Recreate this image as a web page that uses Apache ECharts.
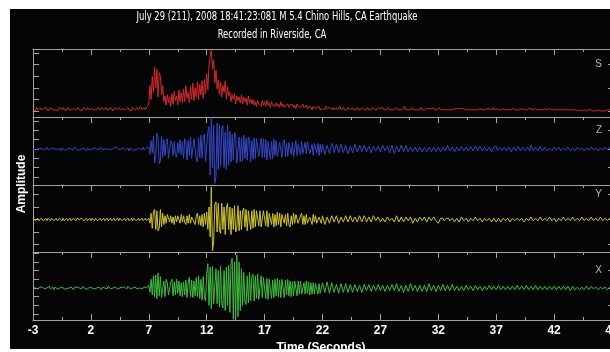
<!DOCTYPE html>
<html>
<head>
<meta charset="utf-8">
<script src="https://cdn.jsdelivr.net/npm/echarts@6/dist/echarts.min.js"></script>
<style>
  html, body { margin: 0; padding: 0; background: #fff; }
  #frame { position: absolute; left: 10px; top: 9px; width: 600px; height: 340px; background: #050505; }
  #chart { position: absolute; left: 0; top: 0; width: 610px; height: 352px; }
</style>
</head>
<body>
<div id="frame"></div>
<div id="chart"></div>
<script>
// seismogram samples, 0.1 s apart, first sample at -3 s
const SAMPLE_STEP = 0.1
const START_TIME = -3

const CHANNELS = ["S", "Z", "Y", "X"]

// S: amplitude envelope
const S_TRACE = [
  1,2,0,3,1,2,3,1,0,2, 1,3,2,0,1,3,2,1,2,1, 2,0,1,3,2,1,3,2,0,1, 3,1,2,1,0,2,3,1,2,3,
  1,2,0,1,3,2,1,3,2,1, 0,2,3,1,2,1,3,2,1,3, 2,1,0,3,1,2,1,3,2,0, 1,3,2,1,3,2,1,0,2,3,
  1,2,3,1,2,0,3,2,1,2, 3,1,2,4,1,2,3,1,3,2,
  6,22,10,30,16,38,20,36,12,33, 30,14,22,8,13,5,14,7,12,4, 15,6,17,9,13,5,18,8,16,7,
  19,8,22,11,16,7,21,10,24,9, 20,12,25,10,23,14,26,11,27,15, 32,18,40,47,53,36,44,24,35,19,
  27,14,25,12,22,16,26,10,21,13, 16,8,14,10,15,6,13,9,12,7, 14,6,12,8,11,5,13,7,10,6,
  10,5,8,4,9,6,7,4,9,5, 8,4,9,5,7,3,8,5,6,4, 7,4,6,3,8,4,6,3,5,4,
  6,3,5,4,6,3,5,2,6,4, 5,3,4,6,3,4,5,2,4,3, 3,1,4,2,1,3,2,4,1,2,
  2,3,1,4,2,1,3,2,1,3, 1,2,3,1,2,4,1,2,3,1, 2,1,3,2,1,2,3,1,2,1,
  3,1,2,1,3,2,1,2,1,3, 1,2,1,3,2,1,2,1,3,2, 2,1,3,1,2,1,2,3,1,2,
  1,2,1,2,3,1,2,1,2,1, 2,4,1,2,1,2,1,3,1,2, 1,2,1,2,1,3,1,2,1,1,
  2,1,2,1,2,1,3,1,2,1, 1,3,1,2,1,2,1,2,1,2, 1,2,1,1,2,1,2,1,2,1,
  2,1,2,1,1,2,1,2,1,1, 1,2,1,2,1,1,2,1,1,2, 1,1,2,1,2,1,1,3,1,1,
  2,1,1,2,1,1,2,1,1,2, 1,2,1,1,2,1,1,2,1,1, 1,1,2,1,1,2,1,1,2,1,
  2,1,1,1,2,1,1,2,1,1, 1,1,2,1,1,1,2,1,1,2, 1,2,1,1,1,2,1,1,1,2,
  1,1,1,2,1,1,1,2,1,1, 0,1,1,2,0,1,1,1,0,1, 1,0,1,1,0,1,0,1,1,0,
  0,1,0,1,0,0,1,0,1,0, 0
]

// Z: vertical
const Z_TRACE = [
  0,1,-1,1,0,-1,1,-1,0,1, -1,0,2,-1,1,0,-1,1,-1,0, 1,-1,0,1,-2,1,0,-1,1,-1, 0,1,-1,0,1,-1,2,0,-1,1,
  -1,1,0,-1,1,0,-2,1,0,-1, 1,0,-1,1,-1,0,1,-1,2,0, -1,1,0,-2,0,1,-1,1,0,-1, 1,-1,2,0,-1,1,0,-1,1,0,
  -1,0,1,-2,1,0,-1,1,-1,1, 0,-1,1,0,-1,2,-1,0,1,-1,
  2,-6,9,-4,14,-15,-8,17,12,-16, -13,14,-9,10,-7,8,11,-10,-8,9, 6,-7,8,-5,-9,7,-4,10,-6,8,
  -10,11,7,-12,9,-7,13,-10,-12,11, 13,-11,-14,12,-9,15,-10,13,16,-14, -12,18,24,-28,34,-20,26,-37,-30,28,
  -22,26,-18,22,25,-20,18,-22,26,-17, 19,-14,16,-12,18,14,-15,-16,13,-14, 12,-13,15,-10,12,-12,13,10,-14,9,
  -11,12,-10,11,13,-8,-10,12,-9,11, -9,10,-12,8,9,-11,8,-10,11,-7, 9,-8,-10,7,8,-9,7,10,-8,6,
  -8,7,9,-6,7,-8,-6,9,-7,5, 7,-6,8,-5,-6,7,-5,8,6,-5, -6,5,-7,6,5,-4,6,-7,5,-4,
  5,4,-6,-5,4,6,-5,-4,6,3, -4,-5,5,3,-4,-4,5,3,-4,-5, 4,3,-5,-4,3,4,-4,-3,5,3,
  -3,-4,4,3,-3,-2,4,3,-3,-4, 3,3,-4,-2,3,3,-2,-4,3,2, -3,-2,4,3,-2,-3,3,2,-4,-3,
  4,3,-5,-2,3,4,-3,-2,4,3, -3,-2,4,3,-3,-2,2,3,-3,-2, 2,3,-3,-2,2,2,-3,-2,2,3,
  -3,-2,2,3,-3,-2,2,2,-3,-2, 2,2,-3,-2,2,3,-2,-2,4,2, -2,-3,2,2,-3,-2,2,3,-2,-2,
  3,2,-2,-2,2,3,-2,-2,3,2, -2,-2,3,2,-2,-2,3,2,-2,-2, 2,3,-2,-2,2,2,-3,-2,2,4,
  3,-2,-3,2,2,-2,-3,2,2,-2, -2,2,2,-3,-2,2,2,-2,-2,3, 2,-2,-2,2,3,-2,-2,2,2,-2,
  4,3,-2,-2,2,2,-2,-2,3,2, -2,-2,2,1,-2,-2,1,2,-2,-1, 2,2,-1,-2,2,1,-2,-2,1,2,
  -1,-2,2,1,-2,-2,1,1,-2,-1, 2,1,-1,-2,1,1,-2,-1,1,2, -1,-1,2,1,-1,-2,1,1,-2,-1,
  1,2,-1,-1,2,1,-1,-1,2,1, 0
]

// Y: north-south
const Y_TRACE = [
  1,0,-1,0,1,-1,0,1,0,-1, 0,1,-1,1,0,-1,1,0,-1,0, 1,-1,0,1,0,-1,1,-1,0,1, -1,0,1,-1,0,1,0,-1,1,0,
  0,-1,1,0,-1,0,1,-1,0,1, -1,1,0,-1,1,0,-1,0,1,-1, 0,1,-1,0,1,-1,0,1,-1,0, 1,-1,0,1,-1,1,0,-1,0,1,
  -1,0,1,-1,0,1,-1,1,0,-1, 0,1,-1,0,1,-1,0,1,-1,0,
  1,-3,5,-7,6,8,-8,7,-9,-7, 8,-6,5,-4,3,-3,4,3,-2,3, -3,2,-4,3,-2,3,2,-3,4,-2,
  3,-2,-4,3,-3,4,-3,2,3,-2, -4,3,5,-4,3,-5,4,-6,5,-4, 6,-8,10,-14,26,-25,-18,12,14,-10,
  13,-9,-11,13,-8,10,-12,9,13,-8, 10,-12,9,-8,11,-10,-7,11,-9,7, -8,7,9,-6,8,-9,7,6,-8,7,
  -7,8,-6,7,8,-5,7,-6,-5,7, 6,-5,7,-6,5,6,-4,5,-6,4, -5,6,-4,5,-6,4,5,-3,4,-5,
  5,-4,-6,3,-4,5,-3,4,5,-3, -4,3,5,-4,3,-4,4,-3,-4,2, 3,-4,4,-2,3,-3,-4,2,3,-3,
  3,2,-4,-3,2,3,-3,-2,3,2, -2,-3,3,2,-3,-2,2,3,-2,-2, 3,2,-2,-2,3,2,-2,-3,2,2,
  -2,-2,3,2,-2,-2,3,1,-2,-2, 2,1,-2,-2,3,2,-1,-2,2,1, -2,-2,1,2,-2,-1,2,2,-1,-2,
  1,2,-2,-1,3,2,-2,-1,2,2, -2,-1,2,3,-1,-2,2,1,-3,-2, 1,2,-2,-1,2,1,-1,-2,2,1,
  -2,-1,2,2,-1,-1,2,1,-1,-2, -3,-2,1,2,1,-1,-2,1,2,1, -1,-2,1,1,-2,-1,1,1,-2,-1,
  2,1,-1,-2,1,1,-2,-1,1,1, -1,-1,2,1,-1,-2,1,1,-2,-1, 1,2,-1,-1,1,1,-2,-1,1,1,
  -2,-1,1,1,-2,-1,1,2,-1,-1, 1,1,-2,-1,1,1,-1,-2,1,1, -1,-2,1,1,-2,-1,1,1,-1,-1,
  2,1,-1,-1,1,2,-1,-1,2,1, -1,-1,1,2,-1,-1,2,1,-1,-1, 1,1,-2,-1,1,1,-1,-1,2,1,
  -1,-2,1,1,-1,-1,2,1,-1,-1, 1,1,-1,-1,2,1,-1,-1,1,2, -1,-1,2,1,-1,-1,1,1,-1,-1,
  2,1,-1,-1,1,2,-1,-1,1,1, 0
]

// X: east-west
const X_TRACE = [
  1,-1,0,2,-1,0,1,-1,1,0, -1,1,0,-1,2,-1,0,1,-2,1, 0,-1,1,0,-1,1,2,-1,0,-1, 1,0,-1,1,0,-2,1,0,1,-1,
  0,1,-1,2,0,-1,1,-1,0,1, -1,0,2,-1,1,0,-1,1,0,-2, 1,-1,0,1,-1,2,0,-1,1,0, -1,1,0,-1,1,0,-2,1,0,1,
  0,-1,2,0,-1,1,0,-1,1,0, -1,1,0,2,-1,0,1,-1,0,1,
  3,-5,10,-8,14,-10,15,-12,17,-9, 13,-11,-9,8,-10,10,6,-8,-9,7, 10,-9,7,-8,10,-6,8,-9,6,-10,
  7,-8,9,-11,7,12,-10,9,-11,8, -9,12,-10,14,-12,10,-14,13,-11,-15, 16,28,-20,24,-24,25,-18,-16,22,-18,
  20,-22,25,-18,-23,20,-26,24,-20,26, -28,28,34,-36,30,-34,38,-33,30,-26, 22,-20,18,-16,-19,14,-17,18,-15,13,
  16,-15,14,-12,16,-13,-12,14,-11,12, 13,-12,11,-13,10,11,-12,9,-11,10, -9,11,-10,9,-11,10,8,-11,9,-8,
  10,-9,8,-10,7,-9,8,7,-9,8, -7,8,-7,-8,6,-7,8,-6,7,-8, 6,-7,6,-7,5,6,-7,5,-6,-7,
  6,7,-5,-6,7,5,-6,-5,6,4, -5,-6,4,5,-6,-4,5,4,-5,-6, 5,4,-5,-5,4,3,-5,-4,4,5,
  -4,-5,3,4,-5,-3,4,4,-3,-4, 4,3,-4,-3,3,4,-3,-3,4,3, -3,-4,3,3,-4,-3,3,4,-3,-3,
  4,5,-3,-4,5,3,-4,-5,3,4, -5,-4,3,5,-4,-3,5,4,-3,-4, 3,4,-4,-3,3,5,-4,-3,3,4,
  -4,-3,5,3,-3,-4,3,3,-4,-3, 3,4,-3,-3,4,3,-3,-4,3,3, -3,-3,4,2,-3,-3,2,3,-3,-4,
  2,3,-3,-2,3,3,-2,-3,2,3, -3,-2,3,3,-2,-3,2,2,-3,-2, 2,3,-2,-2,3,2,-2,-3,2,2,
  -2,-2,3,2,-2,-3,2,2,-2,-3, 2,2,-2,-3,2,2,-2,-2,3,2, -2,-3,2,2,-2,-2,3,2,-2,-2,
  2,2,-2,-2,3,2,-2,-2,2,3, -2,-2,2,3,-2,-2,2,2,-2,-2, 2,3,-2,-2,2,2,-2,-3,2,2,
  -2,-2,2,2,-3,-2,2,2,-2,-2, 1,2,-2,-2,1,2,-2,-1,2,2, -2,-1,2,2,-1,-2,1,2,-2,-1,
  1,2,-1,-2,1,1,-2,-1,1,2, 0
]

const TRACES = [S_TRACE, Z_TRACE, Y_TRACE, X_TRACE]

// panel layout (pixels) and amplitude scales
const panels = [
  { top: 49, height: 68, min: -5.2, max: 53.4, ticks: [0, 10, 20, 30, 40, 50], sideTicks: [0, 20, 40], labelAt: 40, color: "#d12a2c" },
  { top: 117, height: 68, min: -38.7, max: 34.4, ticks: [-30, -20, -10, 0, 10, 20, 30], sideTicks: [-20, 0, 20], labelAt: 20, color: "#3448c6" },
  { top: 185, height: 67, min: -26, max: 27.6, ticks: [-20, -10, 0, 10, 20], sideTicks: [-20, 0, 20], labelAt: 20, color: "#cfc42f" },
  { top: 252, height: 68, min: -36.8, max: 41.4, ticks: [-30, -20, -10, 0, 10, 20, 30, 40], sideTicks: [-20, 0, 20], labelAt: 20, color: "#3fbd3f" },
]

const AXIS_GREY = "#a3a3a3"
const LABEL_FONT = "'Liberation Sans', Arial, sans-serif"
const TITLE_FONT = "'Liberation Sans Narrow', 'DejaVu Sans Condensed', 'Liberation Sans', sans-serif"

const chart = echarts.init(document.getElementById("chart"), null, { renderer: "canvas" })

const grid = []
const xAxis = []
const yAxis = []
const series = []

panels.forEach((p, i) => {
  grid.push({ left: 33, top: p.top, width: 579, height: p.height, containLabel: false, outerBoundsMode: "none" })

  // top edge of each panel: ticks pointing down, no labels
  xAxis.push({
    gridIndex: i, type: "value", position: "top", min: 0, max: 50, interval: 5,
    axisLine: { show: true, onZero: false, lineStyle: { color: AXIS_GREY, width: 1 } },
    axisTick: { show: true, inside: true, length: 6, lineStyle: { color: AXIS_GREY } },
    minorTick: { show: true, splitNumber: 2, length: 3, lineStyle: { color: AXIS_GREY } },
    axisLabel: { show: false },
    splitLine: { show: false },
  })

  yAxis.push({
    gridIndex: i, type: "value", position: "left", min: p.min, max: p.max,
    axisLine: { show: true, onZero: false, lineStyle: { color: AXIS_GREY, width: 1 } },
    axisTick: { show: true, inside: true, length: 6, customValues: p.ticks, lineStyle: { color: AXIS_GREY } },
    axisLabel: { show: false },
    splitLine: { show: false },
  })

  yAxis.push({
    gridIndex: i, type: "value", position: "right", min: p.min, max: p.max,
    axisLine: { show: false, onZero: false },
    axisTick: { show: true, inside: true, length: 4, customValues: p.sideTicks, lineStyle: { color: AXIS_GREY } },
    axisLabel: {
      show: true, inside: true, margin: 10, customValues: [p.labelAt],
      formatter: () => CHANNELS[i],
      color: "#b5b5b5", fontSize: 10, fontFamily: LABEL_FONT,
    },
    splitLine: { show: false },
  })

  series.push({
    type: "line",
    xAxisIndex: i,
    yAxisIndex: i * 2,
    data: TRACES[i].map((v, k) => [k * SAMPLE_STEP, v]),
    showSymbol: false,
    symbol: "none",
    lineStyle: { color: p.color, width: 1 },
    clip: true,
  })
})

// time axis under the last panel
xAxis.push({
  gridIndex: 3, type: "value", position: "bottom", min: 0, max: 50, interval: 5,
  axisLine: { show: true, onZero: false, lineStyle: { color: AXIS_GREY, width: 1 } },
  axisTick: { show: true, inside: true, length: 6, lineStyle: { color: AXIS_GREY } },
  minorTick: { show: true, splitNumber: 2, length: 3, lineStyle: { color: AXIS_GREY } },
  axisLabel: {
    show: true, margin: 5, color: "#fff", fontSize: 12, fontWeight: "bold", fontFamily: LABEL_FONT,
    formatter: (v) => String(Math.round(v + START_TIME)),
  },
  splitLine: { show: false },
})

chart.setOption({
  animation: false,
  backgroundColor: "transparent",
  grid,
  xAxis,
  yAxis,
  series,
  graphic: [
    {
      type: "text", x: 277, y: 17, scaleX: 0.78,
      style: {
        text: "July 29 (211), 2008 18:41:23:081 M 5.4 Chino Hills, CA Earthquake",
        fill: "#fff", font: "12px " + TITLE_FONT, textAlign: "center", textVerticalAlign: "middle",
      },
    },
    {
      type: "text", x: 272, y: 35, scaleX: 0.78,
      style: {
        text: "Recorded in Riverside, CA",
        fill: "#fff", font: "12px " + TITLE_FONT, textAlign: "center", textVerticalAlign: "middle",
      },
    },
    {
      type: "text", x: 22, y: 184, rotation: Math.PI / 2,
      style: {
        text: "Amplitude",
        fill: "#fff", font: "bold 12px " + LABEL_FONT, textAlign: "center", textVerticalAlign: "middle",
      },
    },
    {
      type: "text", x: 321, y: 348,
      style: {
        text: "Time (Seconds)",
        fill: "#fff", font: "bold 12px " + LABEL_FONT, textAlign: "center", textVerticalAlign: "middle",
      },
    },
  ],
})
</script>
</body>
</html>
